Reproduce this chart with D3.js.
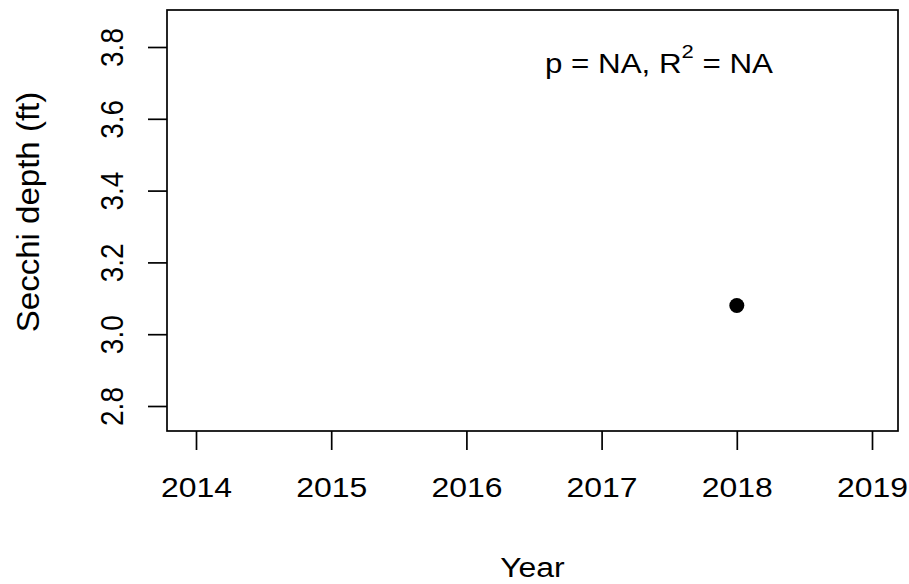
<!DOCTYPE html>
<html>
<head>
<meta charset="utf-8">
<script src="https://cdn.jsdelivr.net/npm/d3@7"></script>
<style>
  body { margin: 0; background: #fff; }
  text { font-family: Arial, "Liberation Sans", sans-serif; fill: #000; }
</style>
</head>
<body>
<svg id="chart" width="909" height="584"></svg>
<script>
// data
const years = [2018];
const secchi = [3.08];
const xTicks = [2014, 2015, 2016, 2017, 2018, 2019];
const yTicks = [2.8, 3.0, 3.2, 3.4, 3.6, 3.8];
const statLabel = { p: "NA", r2: "NA" };

const svg = d3.select("#chart");
const box = { left: 167, right: 898, top: 10, bottom: 431 };
const fs = 28;
const sx = 1.14; // picture is a bit wider than tall

let x = d3.scaleLinear().domain([2014, 2019]).range([196, 872]);
let y = d3.scaleLinear().domain([2.8, 3.8]).range([406, 47]);

// plot box
svg.append("rect")
    .attr("x", box.left).attr("y", box.top)
    .attr("width", box.right - box.left).attr("height", box.bottom - box.top)
    .attr("fill", "none").attr("stroke", "#000").attr("stroke-width", 1.7);

// x axis
let xa = svg.append("g").attr("transform", `translate(0,${box.bottom})`)
    .call(d3.axisBottom(x).tickValues(xTicks).tickFormat(d3.format("d")).tickSize(19).tickPadding(0));
xa.select(".domain").remove();
xa.selectAll("line").attr("stroke", "#000").attr("stroke-width", 1.7);
xa.selectAll("text").remove();
xa.selectAll(".tick").append("text")
    .attr("text-anchor", "middle")
    .attr("font-size", fs)
    .attr("transform", `translate(0,66) scale(${sx},1)`)
    .text(d => d);

// y axis
let ya = svg.append("g").attr("transform", `translate(${box.left},0)`)
    .call(d3.axisLeft(y).tickValues(yTicks).tickFormat(d3.format(".1f")).tickSize(19));
ya.select(".domain").remove();
ya.selectAll("line").attr("stroke", "#000").attr("stroke-width", 1.7);
ya.selectAll("text").remove();
ya.selectAll(".tick").append("text")
    .attr("text-anchor", "middle")
    .attr("font-size", fs)
    .attr("transform", `translate(-44,0) rotate(-90) scale(1,${sx})`)
    .text(d => d3.format(".1f")(d));

// axis titles
svg.append("text")
    .attr("text-anchor", "middle")
    .attr("font-size", fs)
    .attr("transform", `translate(${(box.left + box.right) / 2},577) scale(${sx},1)`)
    .text("Year");

svg.append("text")
    .attr("text-anchor", "middle")
    .attr("font-size", fs)
    .attr("transform", `translate(39,212) rotate(-90) scale(1.18,${sx})`)
    .text("Secchi depth (ft)");

// points
svg.selectAll("circle.pt")
    .data(years.map((yr, i) => ({ yr, v: secchi[i] })))
    .join("circle")
    .attr("class", "pt")
    .attr("cx", d => x(d.yr))
    .attr("cy", d => y(d.v))
    .attr("r", 7.5)
    .attr("fill", "#000");

// stats label
let st = svg.append("text")
    .attr("font-size", 27)
    .attr("transform", `translate(545,73) scale(1.16,1)`);
st.append("tspan").text(`p = ${statLabel.p}, R`);
st.append("tspan").attr("font-size", 19).attr("dy", -15).text("2");
st.append("tspan").attr("dy", 15).text(` = ${statLabel.r2}`);
</script>
</body>
</html>
